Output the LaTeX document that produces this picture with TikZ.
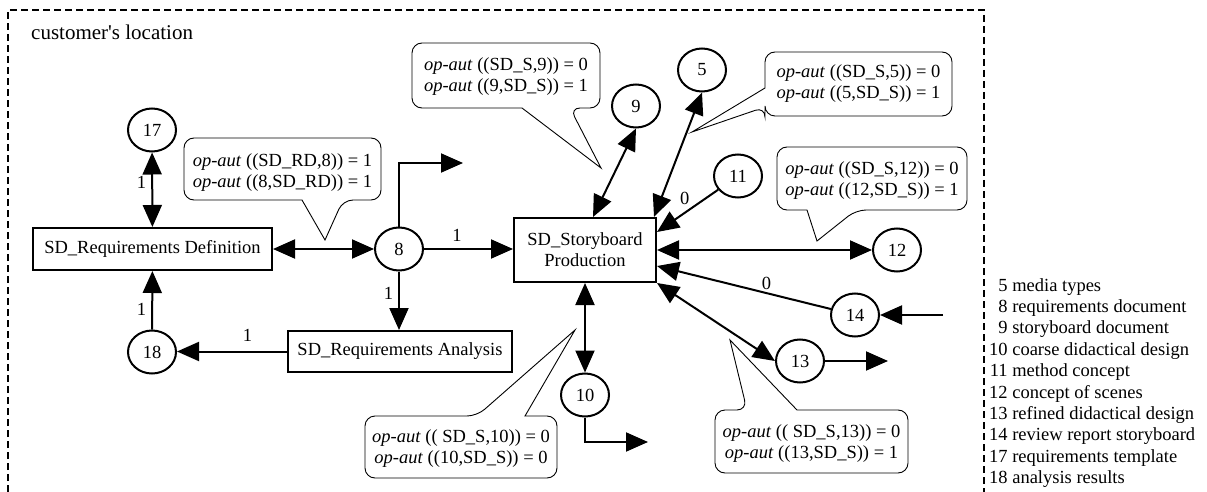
\documentclass[tikz,border=0pt]{standalone}
\usepackage{fontspec}
\setmainfont{Liberation Serif}
\usetikzlibrary{arrows.meta,shapes.geometric,calc}
\begin{document}
\begin{tikzpicture}[x=1pt,y=-1pt,
  every node/.style={font=\fontsize{18.5}{21}\selectfont},
  procbox/.style={draw,line width=2.4pt,inner sep=0pt,align=center},
  datanode/.style={draw,ellipse,line width=2pt,minimum width=48pt,minimum height=43pt,inner sep=0pt},
  flowarr/.style={line width=2pt,-{Triangle[length=22pt,width=19pt]}},
  twoway/.style={line width=2pt,{Triangle[length=22pt,width=19pt]}-{Triangle[length=22pt,width=19pt]}},
  elabel/.style={inner sep=2pt},
  noteline/.style={draw,line width=0.9pt,rounded corners=10pt},
  notetext/.style={align=center,inner sep=0pt},
  sitebound/.style={line width=1.2pt,dash pattern=on 7pt off 4pt}]
\useasboundingbox (0,0) rectangle (1207,492);

% boundary of the customer's site, open towards the bottom
\draw[sitebound] (8,492) -- (8,10) -- (984,10) -- (984,492);
\node[font=\fontsize{21}{24}\selectfont,anchor=base west,inner sep=0pt] (site) at (31,40) {customer\textquotesingle s location};

% processes
\node[procbox,minimum width=238.6pt,minimum height=41.6pt] (rd) at (152.5,249) {SD\_Requirements Definition};
\node[procbox,minimum width=223.6pt,minimum height=40.6pt] (an) at (400,351.5) {SD\_Requirements Analysis};
\node[procbox,minimum width=141.6pt,minimum height=63.6pt] (sb) at (585,250) {SD\_Storyboard\\Production};

% documents
\node[datanode] (n17) at (152,130) {17};
\node[datanode] (n8)  at (399,249) {8};
\node[datanode] (n18) at (152,352) {18};
\node[datanode] (n9)  at (636,106) {9};
\node[datanode] (n5)  at (702,70)  {5};
\node[datanode] (n11) at (738,176) {11};
\node[datanode] (n12) at (897,250) {12};
\node[datanode] (n14) at (855,315) {14};
\node[datanode] (n13) at (800,361) {13};
\node[datanode] (n10) at (585,395) {10};

% free ends of flows leaving or entering the site
\coordinate (o8)  at (463,163);
\coordinate (o10) at (648,442);
\coordinate (o13) at (888,361);
\coordinate (i14) at (943,315);

% annotations with operation authorisations
\draw[noteline] (282,138) -- (381,138) -- (381,200) -- (343,200) [sharp corners] -- (325,240) -- (302,200) [rounded corners=10pt] -- (184,200) -- (184,138) -- cycle;
\node[notetext] (ca) at (282.5,173) {\textit{op-aut} ((SD\_RD,8)) = 1\\\textit{op-aut} ((8,SD\_RD)) = 1};

\draw[noteline] (506,43) -- (600,43) -- (600,108) -- (570,108) [sharp corners] -- (601,168) -- (522,108) [rounded corners=10pt] -- (412,108) -- (412,43) -- cycle;
\node[notetext] (cb) at (506,76.5) {\textit{op-aut} ((SD\_S,9)) = 0\\\textit{op-aut} ((9,SD\_S)) = 1};

\draw[noteline] (858,52) -- (952,52) -- (952,116) -- (765,116) -- (765,107) [sharp corners] -- (692,132) -- (765,88) [rounded corners=10pt] -- (765,52) -- cycle;
\node[notetext] (cc) at (858.5,84) {\textit{op-aut} ((SD\_S,5)) = 0\\\textit{op-aut} ((5,SD\_S)) = 1};

\draw[noteline] (872,147) -- (967,147) -- (967,210) -- (856,210) [sharp corners] -- (817,241) -- (807,210) [rounded corners=10pt] -- (777,210) -- (777,147) -- cycle;
\node[notetext] (cd) at (872,180.5) {\textit{op-aut} ((SD\_S,12)) = 0\\\textit{op-aut} ((12,SD\_S)) = 1};

\draw[noteline] (461,478) -- (365,478) -- (365,416) -- (477,416) [sharp corners] -- (575,330) -- (525,416) [rounded corners=10pt] -- (557,416) -- (557,478) -- cycle;
\node[notetext] (ce) at (461,449) {\textit{op-aut} (( SD\_S,10)) = 0\\\textit{op-aut} ((10,SD\_S)) = 0};

\draw[noteline] (811,473) -- (715,473) -- (715,410) -- (747,410) [sharp corners] -- (730,340) -- (797,410) [rounded corners=10pt] -- (908,410) -- (908,473) -- cycle;
\node[notetext] (cf) at (811.5,443.5) {\textit{op-aut} (( SD\_S,13)) = 0\\\textit{op-aut} ((13,SD\_S)) = 1};

% flows
\draw[twoway] (n17) -- (rd) node[elabel,pos=0.4,left=3pt] {1};
\draw[flowarr] (n18) -- (rd) node[elabel,pos=0.34,left=3pt] {1};
\draw[twoway] (rd.east) -- (n8.west);
\draw[flowarr] (n8.east) -- (n8.east -| sb.west) node[elabel,pos=0.37,above=5pt] {1};
\draw[flowarr] (n8.south) -- (n8.south |- an.north) node[elabel,pos=0.37,left=3pt] {1};
\draw[flowarr] (an.west) -- (an.west -| n18.east) node[elabel,pos=0.36,above=7pt] {1};
\draw[flowarr] (n8.north) |- (o8);
\draw[twoway] ([xshift=8pt]sb.north) -- (n9.south);
\draw[twoway] ([xshift=-3pt]sb.north east) -- (n5.south);
\draw[flowarr] (n11) -- ([yshift=-15pt]sb.north east) node[elabel,pos=0.42,above left=0pt] {0};
\draw[twoway] (sb.east) -- (n12);
\draw[flowarr] (n14) -- ([yshift=-16pt]sb.east) node[elabel,pos=0.37,above=0pt] {0};
\draw[flowarr] (i14) -- (n14.east);
\draw[twoway] (sb.south east) -- (n13.west);
\draw[flowarr] (n13.east) -- (o13);
\draw[twoway] (sb) -- (n10);
\draw[flowarr] (n10.south) |- (o10);

% legend of document numbers
\node[anchor=north west,inner sep=0pt,font=\fontsize{18.5}{21.4}\selectfont] (key) at (989,276) {%
\begin{tabular}{@{}r@{\hspace{4.6pt}}l@{}}
5 & media types\\
8 & requirements document\\
9 & storyboard document\\
10 & coarse didactical design\\
11 & method concept\\
12 & concept of scenes\\
13 & refined didactical design\\
14 & review report storyboard\\
17 & requirements template\\
18 & analysis results
\end{tabular}};
\end{tikzpicture}
\end{document}
